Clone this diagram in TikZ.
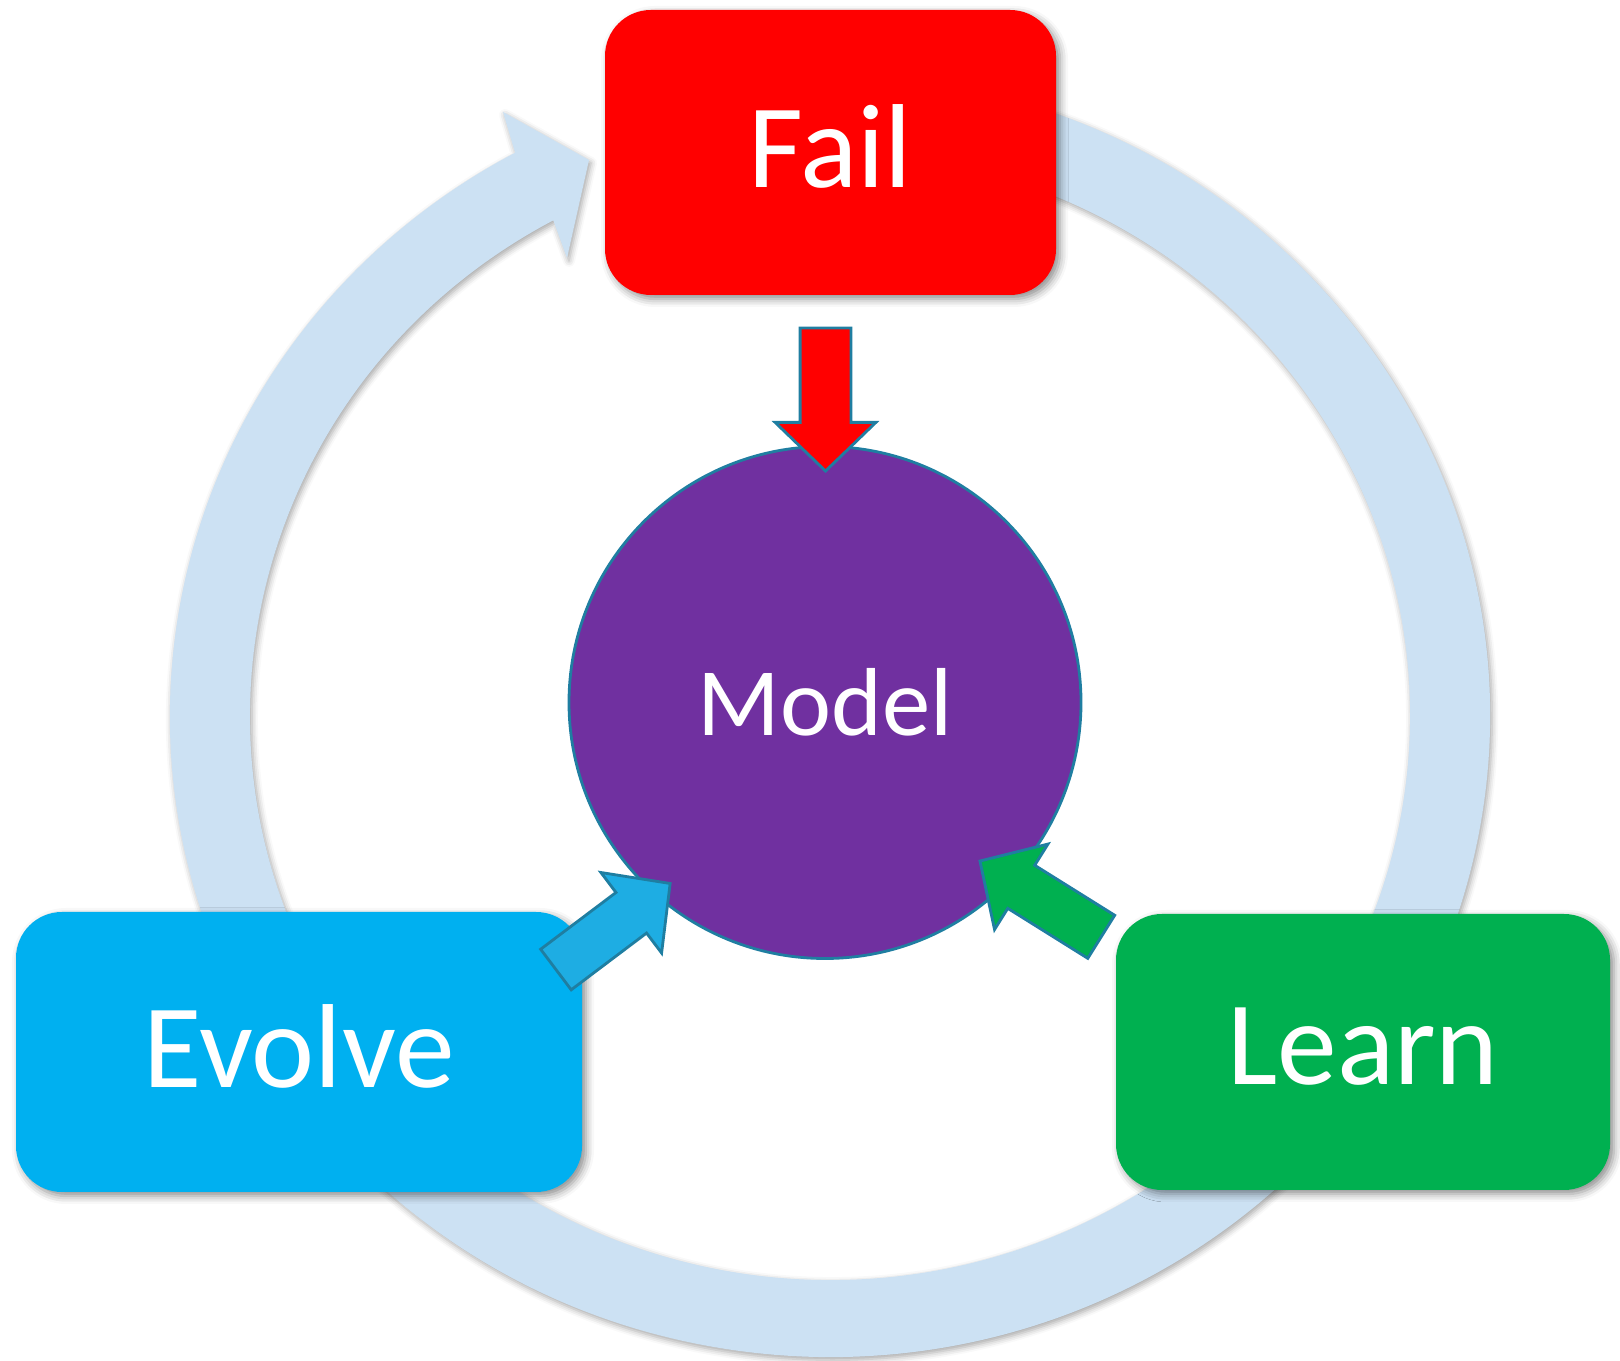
\documentclass[tikz,border=0pt]{standalone}
\usepackage{fontspec}
\setmainfont{Carlito}
\usetikzlibrary{shapes.arrows,shadows.blur}
\definecolor{ringblue}{RGB}{204,225,243}
\definecolor{failred}{RGB}{255,0,0}
\definecolor{evolveblue}{RGB}{0,176,240}
\definecolor{learngreen}{RGB}{0,176,80}
\definecolor{modelpurple}{RGB}{112,48,160}
\definecolor{arrowblue}{RGB}{30,173,227}
\definecolor{edgeteal}{RGB}{31,126,161}
\tikzset{box/.style={rectangle,rounded corners=0.46cm,inner sep=0pt,text=white,text depth=0.12cm,
    font=\fontsize{34}{40}\selectfont,
    blur shadow={shadow xshift=0.04cm,shadow yshift=-0.04cm,shadow blur radius=0.08cm,shadow opacity=45}}}
\tikzset{blk/.style={single arrow,draw=edgeteal,line width=0.8pt,inner xsep=0pt,inner ysep=0.24cm,
    minimum height=1.43cm,single arrow head extend=0.25cm,single arrow tip angle=92,anchor=tip}}

\begin{document}
\begin{tikzpicture}
    \useasboundingbox (0,0) rectangle (16.2,13.6);

    % the cycle ring runs under the boxes, head at top left
    \begin{scope}[shift={(8.3,6.44)}]
    \fill[ringblue,blur shadow={shadow xshift=0.02cm,shadow yshift=-0.03cm,shadow blur radius=0.06cm,shadow opacity=35}]
        (80:6.6 and 6.41) arc[start angle=80,end angle=-241.5,x radius=6.6,y radius=6.41]
        -- (-3.27,6.04) -- (-2.41,5.56) -- (-2.63,4.58)
        -- (-241.5:5.8 and 5.64) arc[start angle=-241.5,end angle=80,x radius=5.8,y radius=5.64] -- cycle;
    \end{scope}

    \node[box,fill=failred,minimum width=4.51cm,minimum height=2.85cm] (fail) at (8.305,12.075) {Fail};
    \node[box,fill=evolveblue,minimum width=5.66cm,minimum height=2.80cm] (evolve) at (2.99,3.08) {Evolve};
    \node[box,fill=learngreen,minimum width=4.94cm,minimum height=2.76cm] (learn) at (13.63,3.08) {Learn};

    \node[circle,fill=modelpurple,draw=edgeteal,line width=0.8pt,minimum size=5.12cm,text=white,
        font=\fontsize{27.5}{33}\selectfont] (model) at (8.25,6.575) {Model};

    % block arrows, placed by their tips
    \node[blk,fill=failred,rotate=-90] (failin) at (8.255,8.87) {};
    \node[blk,fill=arrowblue,rotate=37] (evolvein) at (6.717,4.777) {};
    \node[blk,fill=learngreen,rotate=148] (learnin) at (9.783,5.00) {};
\end{tikzpicture}
\end{document}
